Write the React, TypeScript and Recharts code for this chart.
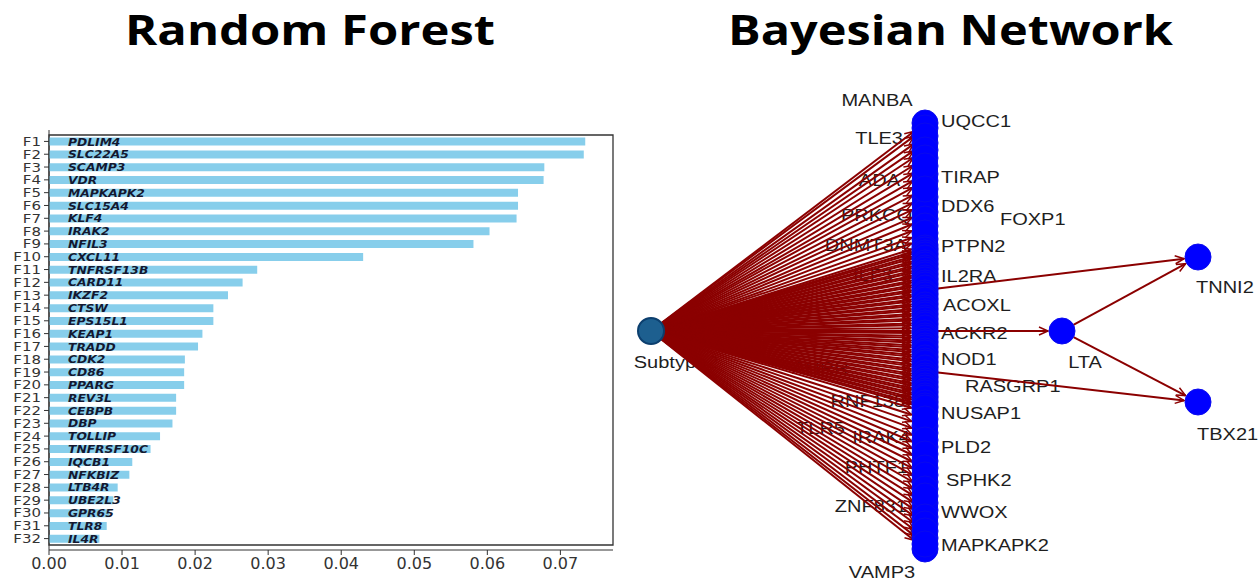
import React from "react";
import {
  BarChart,
  Bar,
  XAxis,
  YAxis,
  LabelList,
  ReferenceArea,
  ScatterChart,
  Scatter,
  ReferenceLine,
} from "recharts";

// ---- Random Forest: feature importances ----
const features = [
  "F1", "F2", "F3", "F4", "F5", "F6", "F7", "F8", "F9", "F10", "F11",
  "F12", "F13", "F14", "F15", "F16", "F17", "F18", "F19", "F20", "F21",
  "F22", "F23", "F24", "F25", "F26", "F27", "F28", "F29", "F30", "F31", "F32",
];
const genes = [
  "PDLIM4", "SLC22A5", "SCAMP3", "VDR", "MAPKAPK2", "SLC15A4", "KLF4",
  "IRAK2", "NFIL3", "CXCL11", "TNFRSF13B", "CARD11", "IKZF2", "CTSW",
  "EPS15L1", "KEAP1", "TRADD", "CDK2", "CD86", "PPARG", "REV3L", "CEBPB",
  "DBP", "TOLLIP", "TNFRSF10C", "IQCB1", "NFKBIZ", "LTB4R", "UBE2L3",
  "GPR65", "TLR8", "IL4R",
];
const importances = [
  0.0734, 0.0732, 0.0678, 0.0677, 0.0642, 0.0642, 0.064, 0.0603, 0.0581,
  0.043, 0.0285, 0.0265, 0.0245, 0.0225, 0.0225, 0.021, 0.0204, 0.0186,
  0.0185, 0.0185, 0.0174, 0.0174, 0.0169, 0.0152, 0.0139, 0.0114, 0.011,
  0.0094, 0.0088, 0.0083, 0.0079, 0.0069,
];
const xTicks = [0, 0.01, 0.02, 0.03, 0.04, 0.05, 0.06, 0.07];
const xMax = 0.0772;

// ---- Bayesian Network (layout coordinates) ----
const hubNode = { name: "Subtype2", x: 651, y: 331 };
const columnX = 925;
// labelled nodes in the vertical stack
const namedColumn = [
  { name: "UQCC1", y: 123 }, { name: "MANBA", y: 128 }, { name: "TLE3", y: 143 },
  { name: "TIRAP", y: 174 }, { name: "ADA", y: 181 }, { name: "DDX6", y: 197 },
  { name: "FOXP1", y: 204 }, { name: "PRKCQ", y: 212 }, { name: "DNMT3A", y: 239 },
  { name: "PTPN2", y: 245 }, { name: "ILF3", y: 260 }, { name: "IL2RA", y: 290 },
  { name: "ACOXL", y: 303 }, { name: "ACKR2", y: 331 }, { name: "NOD1", y: 356 },
  { name: "AHRR", y: 366 }, { name: "RASGRP1", y: 371 }, { name: "RNF138", y: 401 },
  { name: "NUSAP1", y: 412 }, { name: "TLR5", y: 426 }, { name: "IRAK4", y: 433 },
  { name: "PLD2", y: 447 }, { name: "PHTF1", y: 461 }, { name: "SPHK2", y: 482 },
  { name: "ZNF831", y: 503 }, { name: "WWOX", y: 510 }, { name: "MAPKAPK2", y: 538 },
  { name: "VAMP3", y: 549 },
];
// nodes in the stack whose labels are hidden under the others
const unlabeledColumnY = [
  136, 150, 158, 166, 189, 219, 226, 233,
  248, 250, 253, 255, 258, 263, 265, 268, 270, 273, 275, 278, 280, 283,
  285, 288, 293, 295, 298, 300, 305, 308, 310, 313, 315, 318, 320, 323,
  325, 328, 333, 336, 338, 341, 343, 346, 348, 351, 353, 358, 361, 363,
  368, 373, 376, 378, 381, 383, 386, 388, 391, 393, 396, 398, 403, 406, 408,
  419, 440, 454, 468, 475, 489, 496, 517, 524, 531, 544,
];
const outerNodes = [
  { name: "LTA", x: 1062, y: 331 },
  { name: "TNNI2", x: 1198, y: 257 },
  { name: "TBX21", x: 1198, y: 402 },
];
const extraEdges: [string, string][] = [
  ["IL2RA", "TNNI2"],
  ["ACKR2", "LTA"],
  ["RASGRP1", "TBX21"],
  ["LTA", "TNNI2"],
  ["LTA", "TBX21"],
];
// where each node label sits on the drawing
const labelSpots = [
  { name: "UQCC1", x: 941, y: 121, anchor: "start" },
  { name: "TIRAP", x: 941, y: 177, anchor: "start" },
  { name: "DDX6", x: 941, y: 206, anchor: "start" },
  { name: "FOXP1", x: 1000, y: 219, anchor: "start" },
  { name: "PTPN2", x: 941, y: 246, anchor: "start" },
  { name: "IL2RA", x: 941, y: 276, anchor: "start" },
  { name: "ACOXL", x: 943, y: 305, anchor: "start" },
  { name: "ACKR2", x: 941, y: 333, anchor: "start" },
  { name: "NOD1", x: 941, y: 359, anchor: "start" },
  { name: "RASGRP1", x: 965, y: 386, anchor: "start" },
  { name: "NUSAP1", x: 941, y: 413, anchor: "start" },
  { name: "PLD2", x: 941, y: 447, anchor: "start" },
  { name: "SPHK2", x: 946, y: 480, anchor: "start" },
  { name: "WWOX", x: 941, y: 512, anchor: "start" },
  { name: "MAPKAPK2", x: 941, y: 545, anchor: "start" },
  { name: "MANBA", x: 877, y: 100, anchor: "middle" },
  { name: "TLE3", x: 903, y: 138, anchor: "end" },
  { name: "ADA", x: 900, y: 180, anchor: "end" },
  { name: "PRKCQ", x: 912, y: 215, anchor: "end" },
  { name: "DNMT3A", x: 907, y: 245, anchor: "end" },
  { name: "ILF3", x: 893, y: 275, anchor: "end" },
  { name: "AHRR", x: 792, y: 368, anchor: "start" },
  { name: "RNF138", x: 905, y: 401, anchor: "end" },
  { name: "TLR5", x: 845, y: 428, anchor: "end" },
  { name: "IRAK4", x: 910, y: 437, anchor: "end" },
  { name: "PHTF1", x: 908, y: 467, anchor: "end" },
  { name: "ZNF831", x: 907, y: 506, anchor: "end" },
  { name: "VAMP3", x: 882, y: 572, anchor: "middle" },
  { name: "Subtype2", x: 676, y: 362, anchor: "middle" },
  { name: "LTA", x: 1085, y: 362, anchor: "middle" },
  { name: "TNNI2", x: 1196, y: 287, anchor: "start" },
  { name: "TBX21", x: 1197, y: 434, anchor: "start" },
];

const barRows = features.map((f, i) => ({
  feature: f,
  gene: genes[i],
  importance: importances[i],
}));

const columnNodes = [
  ...namedColumn.map((n) => ({ name: n.name, x: columnX, y: n.y })),
  ...unlabeledColumnY.map((y, i) => ({ name: `node${i}`, x: columnX, y })),
];
const allNodes = [hubNode, ...columnNodes, ...outerNodes];
const nodeByName: Record<string, { x: number; y: number }> = {};
allNodes.forEach((n) => (nodeByName[n.name] = n));
const edges: [string, string][] = [
  ...columnNodes.map((n) => [hubNode.name, n.name] as [string, string]),
  ...extraEdges,
];

const EDGE = "#8b0000";
const NODE_R = 13;

const Arrow = (p: any) => {
  const { x1, y1, x2, y2 } = p;
  const dx = x2 - x1;
  const dy = y2 - y1;
  const len = Math.hypot(dx, dy) || 1;
  const ux = dx / len;
  const uy = dy / len;
  const sx = x1 + ux * NODE_R;
  const sy = y1 + uy * NODE_R;
  const ex = x2 - ux * (NODE_R + 1);
  const ey = y2 - uy * (NODE_R + 1);
  const bx = ex - ux * 9;
  const by = ey - uy * 9;
  return (
    <g>
      <line x1={sx} y1={sy} x2={ex} y2={ey} stroke={EDGE} strokeWidth={2} />
      <polyline
        points={`${bx - uy * 4},${by + ux * 4} ${ex},${ey} ${bx + uy * 4},${by - ux * 4}`}
        fill="none"
        stroke={EDGE}
        strokeWidth={1.5}
      />
    </g>
  );
};

const NodeDot = (p: any) => {
  const isHub = p.payload.name === hubNode.name;
  return (
    <circle
      cx={p.cx}
      cy={p.cy}
      r={NODE_R}
      fill={isHub ? "#1d5f8f" : "#0000ff"}
      stroke={isHub ? "#0c3f6e" : "#0a0af0"}
      strokeWidth={isHub ? 2 : 1}
    />
  );
};

const NodeLabel = (p: any) => (
  <text
    transform={`translate(${p.cx},${p.cy}) scale(1.25,1)`}
    textAnchor={p.payload.anchor}
    dy="0.36em"
    fontSize={16}
    fontFamily="'Liberation Sans', Arial, sans-serif"
    fill="#1e1e1e"
  >
    {p.payload.name}
  </text>
);

const FeatureTick = (p: any) => (
  <text
    transform={`translate(${p.x},${p.y}) scale(1.2,1)`}
    textAnchor="end"
    dy="0.36em"
    fontSize={12.5}
    fontFamily="'DejaVu Sans', sans-serif"
    fill="#333"
  >
    {p.payload.value}
  </text>
);

const GeneLabel = (p: any) => (
  <text
    transform={`translate(${p.x + 19},${p.y + p.height / 2}) scale(1.12,1)`}
    dy="0.36em"
    fontSize={11}
    fontWeight="bold"
    fontStyle="italic"
    fontFamily="'DejaVu Sans', sans-serif"
    fill="#141830"
  >
    {p.value}
  </text>
);

const App = () => {
  return (
    <div
      style={{
        position: "absolute",
        left: 0,
        top: 0,
        width: 1258,
        height: 581,
        background: "#fff",
        overflow: "hidden",
      }}
    >
      <svg width={1258} height={70} style={{ position: "absolute", left: 0, top: 0 }}>
        <text
          x={125}
          y={45}
          textLength={370}
          lengthAdjust="spacingAndGlyphs"
          fontSize={42}
          fontWeight="bold"
          fontFamily="'Open Sans', Lato, sans-serif"
          fill="#000"
        >
          Random Forest
        </text>
        <text
          x={728}
          y={45}
          textLength={445}
          lengthAdjust="spacingAndGlyphs"
          fontSize={42}
          fontWeight="bold"
          fontFamily="'Open Sans', Lato, sans-serif"
          fill="#000"
        >
          Bayesian Network
        </text>
      </svg>

      <div style={{ position: "absolute", left: 0, top: 100 }}>
        <BarChart
          width={640}
          height={481}
          data={barRows}
          layout="vertical"
          margin={{ top: 30, right: 27, left: 0, bottom: 5 }}
          barCategoryGap="20%"
        >
          <XAxis
            type="number"
            domain={[0, xMax]}
            ticks={xTicks}
            allowDataOverflow
            tickFormatter={(v: number) => v.toFixed(2)}
            height={26}
            tickSize={5}
            tickMargin={3}
            stroke="#333"
            tick={{ fontSize: 16, fill: "#333", fontFamily: "'DejaVu Sans', sans-serif" }}
          />
          <YAxis
            type="category"
            dataKey="feature"
            width={49}
            tickSize={5}
            tickMargin={3}
            stroke="#333"
            padding={{ top: 5, bottom: 5 }}
            interval={0}
            tick={<FeatureTick />}
          />
          <ReferenceArea
            x1={0}
            x2={xMax}
            fill="none"
            stroke="#333"
            strokeWidth={1.3}
            ifOverflow="visible"
          />
          <Bar dataKey="importance" fill="#87ceeb" isAnimationActive={false}>
            <LabelList dataKey="gene" content={<GeneLabel />} />
          </Bar>
        </BarChart>
      </div>

      <div style={{ position: "absolute", left: 620, top: 80 }}>
        <ScatterChart width={638} height={501} margin={{ top: 0, right: 0, bottom: 0, left: 0 }}>
          <XAxis type="number" dataKey="x" domain={[620, 1258]} hide />
          <YAxis type="number" dataKey="y" domain={[80, 581]} reversed hide />
          <Scatter
            data={labelSpots}
            shape={<NodeLabel />}
            isAnimationActive={false}
            zIndex={100}
          />
          {edges.map(([a, b], i) => (
            <ReferenceLine
              key={i}
              segment={[
                { x: nodeByName[a].x, y: nodeByName[a].y },
                { x: nodeByName[b].x, y: nodeByName[b].y },
              ]}
              ifOverflow="visible"
              shape={Arrow}
              zIndex={300}
            />
          ))}
          <Scatter
            data={allNodes}
            shape={<NodeDot />}
            isAnimationActive={false}
            zIndex={700}
          />
        </ScatterChart>
      </div>
    </div>
  );
};

export default App;
